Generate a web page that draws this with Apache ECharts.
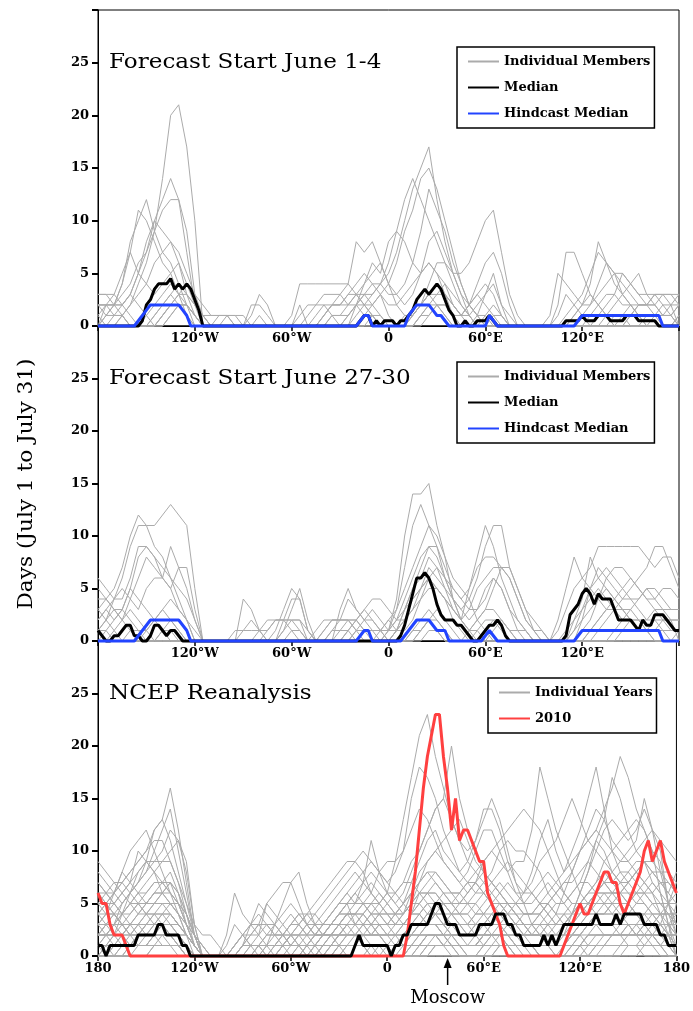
<!DOCTYPE html>
<html>
<head>
<meta charset="utf-8">
<title>Blocking days by longitude, July</title>
<script src="https://cdn.jsdelivr.net/npm/echarts@6/dist/echarts.min.js"></script>
<style>
html,body{margin:0;padding:0;background:#fff;}
#chart{width:693px;height:1011px;}
</style>
</head>
<body>
<div id="chart"></div>
<script>
// Longitude grids (degrees east): members/years on a 5° grid, medians on 2.5°
const lon5 = Array.from({length: 73}, (_, i) => -180 + 5 * i);
const lon25 = Array.from({length: 145}, (_, i) => -180 + 2.5 * i);

const xTickValues = [-180, -120, -60, 0, 60, 120, 180];
const xTickLabels = ['180', '120°W', '60°W', '0', '60°E', '120°E', '180'];
const yTickValues = [0, 5, 10, 15, 20, 25];

const panelTitles = ['Forecast Start June 1-4', 'Forecast Start June 27-30', 'NCEP Reanalysis'];
const yAxisTitle = 'Days (July 1 to July 31)';
const moscowLon = 37.6;

// ---- Forecast start June 1-4: individual members (5° grid) ----
const june1to4Members = [
  [0,0,0,1,2,4,6,9,14,20,21,17,10,0,0, 0,0,0,0,0,0,0,0,0,0,0,0,0,0,0, 0,0,1,2,3,4,5,7,10,13,15,17,12,8,5,3,1,0,0,0,0,0, 0,0,0,0,0,0,0,0,0,0,0,0,0,0,0,0,0,0,0,0,0],
  [0,0,1,2,3,5,8,10,12,14,12,9,3,0,0, 0,0,0,0,0,0,0,0,0,0,0,0,0,0,1, 1,2,3,2,2,3,4,6,9,11,14,15,13,10,7,4,2,1,1,0,0,0, 0,0,0,0,0,1,3,2,1,0,0,0,0,1,2,1,0,0,0,0,0],
  [0,1,2,4,8,10,12,9,7,6,4,2,0,0,0, 0,0,0,0,0,0,0,0,0,0,0,0,0,1,2, 2,3,4,5,4,4,6,9,12,14,12,10,8,6,4,2,1,0,0,0,0,0, 0,0,0,0,0,0,0,1,2,4,8,6,5,3,2,1,0,0,0,0,0],
  [1,2,2,3,4,6,7,9,11,12,12,7,2,0,0, 0,0,0,0,0,0,0,0,0,0,0,0,0,0,0, 0,1,2,3,3,4,3,3,4,6,9,13,11,9,6,4,2,1,0,0,0,0, 0,0,0,0,0,2,7,7,5,3,2,1,0,0,0,0,0,0,0,0,1],
  [2,2,3,5,7,11,10,8,6,5,3,1,0,0,0, 0,0,0,0,0,0,0,0,0,0,2,0,0,1,2, 3,4,8,7,8,6,4,3,2,3,5,8,9,7,5,3,2,1,0,0,0,0, 0,0,0,0,1,5,4,3,2,2,3,4,5,5,4,3,2,2,1,1,2],
  [3,3,2,2,3,5,7,10,9,8,7,5,3,1,0, 0,1,1,0,0,0,0,0,0,0,0,0,0,0,0, 0,0,2,4,6,5,8,9,8,6,5,6,5,3,1,0,0,1,3,5,2,0, 0,0,0,0,0,0,1,2,3,5,7,6,4,3,2,1,1,1,1,2,3],
  [0,2,2,4,7,5,4,3,4,5,6,3,1,0,0, 0,0,0,0,0,0,0,0,0,1,4,4,4,4,4, 4,4,3,4,5,6,4,2,1,1,2,4,6,6,5,5,6,8,10,11,7,3, 1,0,0,0,0,0,0,0,1,2,4,6,5,4,3,2,2,1,0,0,0],
  [0,0,0,1,2,3,4,6,7,8,6,4,2,1,0, 0,0,0,0,1,3,2,0,0,0,0,0,0,0,0, 0,1,2,3,4,3,2,2,3,4,5,6,5,4,2,1,2,4,6,7,5,2, 0,0,0,0,0,0,0,0,0,0,1,2,3,5,4,3,3,3,2,1,0],
  [3,3,3,2,1,0,0,1,2,3,4,3,2,1,1, 1,1,0,0,0,1,0,0,0,0,0,0,0,1,2, 2,2,3,3,2,1,0,0,0,1,2,3,4,3,2,1,1,2,3,4,2,1, 0,0,0,0,0,0,0,0,0,1,2,3,3,2,2,2,2,2,3,3,3],
  [2,2,1,1,0,0,1,2,3,4,3,3,2,1,0, 0,0,0,0,2,2,1,0,0,0,0,0,0,0,0, 0,0,0,1,2,3,1,0,0,1,2,3,3,3,2,1,2,3,4,3,1,0, 0,0,0,0,0,0,0,0,0,0,0,1,2,3,4,5,3,2,1,1,2],
  [0,1,2,2,3,2,1,0,1,2,3,2,1,0,0, 1,1,1,1,0,0,0,0,0,0,1,2,2,3,3, 3,2,2,1,1,0,0,0,0,1,2,3,4,3,2,1,0,0,1,2,1,0, 0,0,0,0,0,0,0,0,0,0,0,0,0,0,1,2,2,3,3,2,0],
  [1,0,0,0,0,0,0,1,2,3,2,1,0,0,0, 0,0,0,0,0,0,0,0,0,0,0,0,0,0,0, 0,0,0,0,1,1,0,0,0,0,1,2,2,2,1,1,2,3,2,1,0,0, 0,0,0,0,0,0,0,1,2,3,2,1,0,0,0,0,0,0,0,0,1],
  [0,0,0,0,0,0,0,0,1,2,3,4,3,2,1, 1,1,0,0,0,0,0,0,0,0,0,0,0,0,1, 1,1,2,2,1,0,0,0,0,0,1,2,3,4,3,2,1,0,0,0,0,0, 0,0,0,0,0,0,0,0,0,0,0,0,1,1,0,0,0,1,1,1,0],
  [2,2,2,1,0,0,0,0,0,1,2,2,1,0,0, 0,0,0,0,0,0,0,0,0,0,0,0,1,2,1, 0,0,0,0,0,0,0,0,1,1,2,3,2,1,0,0,0,0,0,1,1,0, 0,0,0,0,0,0,0,0,0,0,0,0,0,0,0,0,1,1,2,2,2],
  [2,1,1,1,0,0,0,0,1,2,2,2,1,0,0, 0,0,0,0,0,0,0,0,0,0,0,1,2,2,2, 2,3,3,2,1,0,0,0,0,0,0,1,2,2,1,0,0,0,0,0,0,0, 0,0,0,0,0,0,0,0,0,0,0,0,0,0,1,2,2,3,3,3,2],
  [0,0,0,0,0,0,0,0,0,1,2,2,1,0,0, 0,0,0,0,0,0,0,0,0,0,0,0,0,0,0, 0,0,0,0,0,0,0,0,0,0,1,1,2,1,0,0,0,0,0,0,0,0, 0,0,0,0,0,0,0,0,0,0,0,0,0,0,0,0,0,0,0,0,0]
];

// medians, 2.5° grid, one row per 20° of longitude
const june1to4Median = [
  0,0,0,0,0,0,0,0,
  0,0,0,0.5,2,2.5,3.5,4,
  4,4,4.5,3.5,4,3.5,4,3.5,
  2.5,1.5,0,0,0,0,0,0,
  0,0,0,0,0,0,0,0,
  0,0,0,0,0,0,0,0,
  0,0,0,0,0,0,0,0,
  0,0,0,0,0,0,0,0,
  0,0.5,1,1,0,0.5,0,0.5,
  0.5,0.5,0,0.5,0.5,1,1.5,2.5,
  3,3.5,3,3.5,4,3.5,2.5,1.5,
  1,0,0,0.5,0,0,0.5,0.5,
  0.5,1,0.5,0,0,0,0,0,
  0,0,0,0,0,0,0,0,
  0,0,0,0,0.5,0.5,0.5,0.5,
  1,0.5,0.5,0.5,1,1,1,0.5,
  0.5,0.5,0.5,1,1,1,0.5,0.5,
  0.5,0.5,0.5,0,0,0,0,0,
  0
];
const june1to4Hindcast = [
  0,0,0,0,0,0,0,0,
  0,0,0.5,1,1.5,2,2,2,
  2,2,2,2,2,1.5,1,0,
  0,0,0,0,0,0,0,0,
  0,0,0,0,0,0,0,0,
  0,0,0,0,0,0,0,0,
  0,0,0,0,0,0,0,0,
  0,0,0,0,0,0,0,0,
  0,0.5,1,1,0,0,0,0,
  0,0,0,0,0,1,1.5,2,
  2,2,2,1.5,1,1,0.5,0,
  0,0,0,0,0,0,0,0,
  0,1,0.5,0,0,0,0,0,
  0,0,0,0,0,0,0,0,
  0,0,0,0,0,0,0,0.5,
  1,1,1,1,1,1,1,1,
  1,1,1,1,1,1,1,1,
  1,1,1,1,0,0,0,0,
  0
];

// ---- Forecast start June 27-30: individual members (5° grid) ----
const june27to30Members = [
  [2,3,4,6,9,11,11,11,12,13,12,11,5,0,0, 0,0,0,0,0,0,0,0,0,0,0,0,0,0,0, 0,0,0,0,0,0,1,4,10,14,14,15,11,8,4,2,1,0,0,0,0,0, 0,0,0,0,0,0,1,2,3,4,5,4,3,2,2,1,1,1,2,2,2],
  [3,4,5,7,10,12,11,9,8,6,4,2,0,0,0, 0,0,0,4,3,1,0,0,0,0,0,0,0,0,0, 1,2,1,0,0,0,1,3,7,11,13,11,9,6,4,2,1,1,0,0,0,0, 0,0,0,0,0,0,0,1,2,3,4,5,4,3,3,2,2,3,3,3,3],
  [6,5,4,4,6,9,9,8,7,6,5,4,2,0,0, 0,0,0,0,0,0,0,0,1,3,5,2,0,0,1, 2,4,3,2,1,1,2,3,5,7,9,11,10,8,6,5,4,2,1,0,0,0, 0,0,0,0,0,1,3,5,6,7,9,9,9,9,9,9,8,7,8,8,6],
  [0,1,2,3,5,8,9,8,6,9,7,5,2,0,0, 0,0,0,0,0,0,0,1,3,5,4,1,0,0,0, 0,1,2,3,2,1,1,2,4,6,8,9,8,6,4,3,4,6,9,11,11,7, 5,3,1,0,0,0,0,0,0,0,0,0,0,0,0,0,0,0,0,0,0],
  [5,4,3,2,4,6,8,7,6,5,7,7,3,0,0, 0,0,0,0,0,0,0,0,2,4,4,1,0,0,0, 3,5,3,2,2,1,1,2,3,5,7,9,9,7,5,4,3,3,4,6,5,3, 2,1,0,0,0,2,5,8,6,5,4,3,3,4,5,6,7,9,9,7,5],
  [1,2,4,5,4,3,5,6,6,5,3,2,1,0,0, 0,0,1,1,1,1,1,2,2,2,2,1,0,1,2, 2,2,2,1,1,0,0,1,3,5,6,8,7,5,3,2,5,8,11,9,6,4, 2,1,0,0,0,0,0,2,4,8,6,5,4,3,2,1,1,0,0,0,1],
  [4,4,3,3,5,4,3,2,3,4,3,2,0,0,0, 0,0,0,1,2,1,0,0,0,0,0,0,0,0,0, 0,0,1,2,3,2,1,1,2,4,5,6,7,6,5,4,5,7,8,8,7,6, 4,2,1,0,0,0,0,0,1,2,4,6,7,7,6,5,4,4,5,5,4],
  [2,3,2,3,2,1,1,2,3,2,1,0,0,0,0, 0,0,0,0,0,1,2,2,2,2,1,0,0,0,0, 0,1,2,3,4,4,3,2,2,3,4,5,5,4,3,2,3,5,6,7,7,6, 4,2,1,1,0,0,0,0,0,1,2,3,4,5,6,5,4,3,2,2,2],
  [0,0,1,2,3,2,1,0,0,0,0,0,0,0,0, 0,0,0,0,0,0,0,0,1,2,2,0,0,1,2, 2,2,1,1,0,0,0,1,2,3,5,7,6,5,4,3,2,3,5,6,5,3, 1,0,0,0,0,0,0,0,2,5,6,7,6,5,4,3,2,2,1,0,0],
  [3,2,1,0,0,0,0,0,1,1,0,0,0,0,0, 0,0,0,0,0,0,0,0,0,0,0,0,0,0,1, 1,1,0,0,0,1,2,1,1,2,4,6,5,4,2,1,0,0,1,2,2,1, 0,0,0,0,0,0,0,1,3,5,7,6,5,4,4,4,5,5,4,3,3],
  [1,2,3,2,1,0,0,0,0,0,0,0,0,0,0, 0,0,0,0,0,0,1,2,2,1,0,0,0,0,0, 0,0,0,0,0,0,0,1,3,4,5,6,5,4,3,2,1,2,3,5,7,7, 5,3,2,1,0,0,0,0,0,1,2,3,3,2,2,1,1,2,2,1,1],
  [0,0,0,0,0,0,1,2,1,0,0,0,0,0,0, 0,0,0,0,0,0,0,0,0,0,0,0,1,2,2, 2,2,2,1,1,1,0,0,0,1,2,3,2,1,0,0,1,2,3,3,2,1, 0,0,0,0,0,0,0,0,0,0,0,0,1,2,3,4,5,4,3,2,0],
  [1,1,0,0,0,0,0,0,0,0,0,0,0,0,0, 0,0,0,0,0,0,0,0,0,1,1,0,0,0,0, 0,0,1,1,1,1,0,0,0,0,1,2,3,2,1,0,0,1,2,2,1,0, 0,0,0,0,0,0,0,0,0,0,1,2,3,3,2,2,1,1,1,1,1],
  [0,0,0,0,0,0,0,0,1,2,1,0,0,0,0, 0,0,0,0,0,0,0,0,0,0,0,0,0,0,0, 0,0,0,0,0,0,0,0,0,1,1,2,2,1,0,0,0,0,0,1,2,1, 1,1,0,0,0,0,0,0,0,0,0,0,0,1,2,2,1,0,0,0,0],
  [0,0,0,0,1,1,0,0,0,0,0,0,0,0,0, 0,0,0,0,0,0,0,0,0,0,0,0,0,0,0, 0,0,0,0,0,0,0,0,0,0,1,2,1,0,0,0,0,0,0,0,0,0, 0,0,0,0,0,0,0,0,0,0,0,0,0,0,0,0,0,0,0,0,0],
  [0,0,0,0,0,0,0,0,0,0,0,0,0,0,0, 0,0,0,0,0,0,0,0,0,0,0,0,0,0,0, 0,0,0,0,0,0,0,0,0,0,0,1,1,0,0,0,0,0,0,0,0,0, 0,0,0,0,0,0,0,0,0,0,0,0,0,0,0,0,0,0,0,0,0]
];
const june27to30Median = [
  1,0.5,0,0,0.5,0.5,1,1.5,
  1.5,0.5,0.5,0,0,0.5,1.5,1.5,
  1,0.5,1,1,0.5,0,0,0,
  0,0,0,0,0,0,0,0,
  0,0,0,0,0,0,0,0,
  0,0,0,0,0,0,0,0,
  0,0,0,0,0,0,0,0,
  0,0,0,0,0,0,0,0,
  0,0,0,0,0,0,0,0,
  0,0,0,0.5,1.5,3,4.5,6,
  6,6.5,6,5,3.5,2.5,2,2,
  2,1.5,1.5,1,0.5,0,0,0.5,
  1,1.5,1.5,2,1.5,0.5,0,0,
  0,0,0,0,0,0,0,0,
  0,0,0,0,0.5,2.5,3,3.5,
  4.5,5,4.5,3.5,4.5,4,4,4,
  3,2,2,2,2,1.5,1,2,
  1.5,1.5,2.5,2.5,2.5,2,1.5,1,
  1
];
const june27to30Hindcast = [
  0,0,0,0,0,0,0,0,
  0,0,0.5,1,1.5,2,2,2,
  2,2,2,2,2,1.5,1,0,
  0,0,0,0,0,0,0,0,
  0,0,0,0,0,0,0,0,
  0,0,0,0,0,0,0,0,
  0,0,0,0,0,0,0,0,
  0,0,0,0,0,0,0,0,
  0,0.5,1,1,0,0,0,0,
  0,0,0,0,0.5,1,1.5,2,
  2,2,2,1.5,1,1,1,0,
  0,0,0,0,0,0,0,0,
  0.5,1,0.5,0,0,0,0,0,
  0,0,0,0,0,0,0,0,
  0,0,0,0,0,0,0,0.5,
  1,1,1,1,1,1,1,1,
  1,1,1,1,1,1,1,1,
  1,1,1,1,0,0,0,0,
  0
];

// ---- NCEP reanalysis: individual years (5° grid) ----
const ncepYears = [
  [2,3,4,5,6,8,9,12,13,16,12,7,2,0,0, 0,0,0,0,0,0,0,0,0,0,1,2,3,4,5,6,7, 8,7,6,5,6,9,13,17,21,23,19,16,13,11,9,8,7,6,5,4,3, 2,3,4,5,6,7,8,10,12,14,13,11,10,9,8,7,6,4,3,2],
  [1,2,3,5,6,7,8,10,12,14,10,6,2,0,0, 0,0,1,2,3,4,3,2,1,0,0,0,1,2,3,4,5, 6,7,8,7,6,5,6,8,10,12,14,15,20,15,12,10,8,7,6,5,4, 3,2,2,3,4,6,8,10,11,12,14,16,19,17,14,12,10,6,3,1],
  [4,5,6,7,8,9,10,12,13,11,8,5,2,0,0, 0,0,0,0,0,0,0,1,2,3,4,4,3,3,4,5,6, 7,8,9,8,7,8,10,15,18,17,15,12,10,8,7,6,6,7,8,9,8, 7,6,5,4,3,3,4,6,8,11,13,17,15,12,10,9,7,6,5,4],
  [3,4,6,8,10,11,12,10,8,6,4,2,0,0,0, 0,1,3,2,1,0,0,0,1,2,2,3,4,5,6,7,8, 9,10,9,8,7,6,7,9,10,12,14,15,13,11,10,11,13,15,13,10,7, 5,3,2,1,1,2,4,6,8,10,12,13,12,11,12,14,12,10,5,3],
  [0,1,2,4,6,7,8,9,10,12,11,9,3,0,0, 0,0,0,0,0,0,1,3,5,7,8,5,3,2,2,3,4, 4,5,6,8,9,9,10,12,14,13,11,9,8,7,8,10,12,12,10,8,6, 6,8,11,13,10,8,10,12,15,18,14,10,8,7,6,5,4,4,2,0],
  [5,6,6,7,8,9,10,11,11,9,7,4,1,0,0, 0,0,0,0,0,0,0,0,0,0,0,1,2,3,4,5,6, 5,6,7,6,5,4,5,7,9,11,12,10,9,8,9,11,14,14,12,9,7, 6,7,9,10,11,13,15,13,11,10,9,8,7,7,8,9,8,7,6,5],
  [2,2,3,4,5,6,7,8,9,10,11,8,3,0,0, 0,0,0,1,2,3,5,6,7,7,5,3,2,2,3,4,5, 5,7,11,8,6,5,4,5,7,9,10,11,12,13,11,9,8,7,6,5,5, 4,4,5,6,7,8,9,10,11,12,11,10,9,9,10,11,12,8,5,2],
  [6,5,5,6,7,10,9,8,7,6,5,3,1,0,0, 0,0,0,0,0,0,0,0,0,0,0,0,1,2,3,4,5, 3,4,5,6,5,4,5,6,8,9,10,9,8,7,6,7,9,10,9,8,9, 9,12,18,15,12,10,8,6,5,4,4,5,6,7,8,9,9,8,7,6],
  [3,4,5,6,7,8,9,9,9,9,7,5,3,2,2, 1,0,0,0,0,0,0,0,1,2,3,4,5,6,7,8,9, 9,8,6,5,4,3,4,6,7,8,8,7,6,6,7,8,9,10,11,12,13, 14,13,12,10,8,6,5,5,6,7,9,10,11,12,13,12,10,9,5,3],
  [8,7,6,5,6,7,9,8,6,5,4,3,2,1,0, 0,2,6,4,3,2,1,0,0,0,0,0,0,1,2,3,4, 3,4,5,4,3,2,3,4,6,7,8,7,6,5,5,6,7,8,10,11,10, 10,9,8,6,5,5,6,7,9,11,10,8,7,6,6,7,8,7,6,8],
  [9,8,7,6,5,4,5,6,7,7,6,4,2,0,0, 0,0,0,0,0,1,2,3,4,5,4,3,2,2,2,3,3, 3,3,4,4,3,3,4,5,6,6,7,6,5,4,4,5,6,5,6,7,6, 5,5,6,7,6,5,4,4,5,6,7,8,9,10,11,15,12,11,10,9],
  [4,5,6,8,7,6,5,6,6,7,5,4,2,1,0, 0,0,0,0,1,2,5,4,3,2,1,0,0,0,1,2,3, 2,3,3,3,2,2,3,4,5,6,6,5,4,3,3,4,5,6,7,6,5, 4,4,4,5,4,3,3,4,5,6,7,6,5,5,6,6,5,4,4,4],
  [7,6,5,4,4,5,6,7,7,6,5,3,1,0,0, 0,0,0,0,0,0,0,0,0,0,0,0,0,1,1,2,3, 3,2,2,3,3,4,4,5,5,4,5,5,4,4,3,3,4,5,5,4,3, 3,3,2,2,3,4,5,5,4,4,5,6,6,5,4,3,3,4,5,7],
  [5,5,4,3,3,4,5,5,6,7,6,4,2,0,0, 0,0,1,2,2,3,3,2,2,3,3,2,2,2,2,2,2, 2,2,2,2,2,2,2,3,4,5,4,4,3,3,2,2,3,4,5,5,4, 3,2,2,1,1,1,2,3,4,5,5,4,4,3,3,4,4,3,2,5],
  [1,2,2,3,4,5,4,4,5,5,4,3,1,0,0, 0,0,0,0,0,0,0,0,0,0,0,0,0,0,0,1,2, 2,3,3,2,1,1,2,3,4,3,4,3,3,2,2,3,3,3,4,3,2, 2,2,2,2,1,1,2,3,3,4,4,4,3,3,2,2,3,3,2,1],
  [0,0,1,2,3,4,4,5,5,4,3,2,1,0,0, 0,0,0,1,3,5,4,3,2,1,1,0,0,1,2,3,4, 4,3,2,2,2,1,1,2,3,3,3,3,2,2,2,2,2,3,3,2,2, 2,2,2,1,1,1,1,2,3,3,3,3,3,4,4,3,2,2,1,0],
  [2,2,3,3,2,2,3,4,4,3,3,2,1,0,0, 0,0,0,0,0,0,0,0,0,0,0,0,0,0,0,0,1, 1,2,2,2,1,1,1,2,2,3,3,2,2,2,1,1,2,2,3,3,2, 1,1,1,1,1,1,2,2,2,3,3,3,2,2,2,3,3,2,2,2],
  [6,5,4,3,2,1,2,3,3,2,2,1,0,0,0, 0,0,0,0,0,1,2,2,3,4,3,2,1,0,0,0,0, 0,0,0,0,1,1,2,2,3,3,4,3,2,1,1,1,2,3,3,2,1, 1,1,0,0,0,1,1,2,3,3,2,2,2,3,3,3,2,3,5,6],
  [3,3,2,2,1,2,2,3,3,4,3,2,1,0,0, 0,0,0,0,0,0,0,0,0,0,0,1,2,3,3,4,4, 4,4,3,2,1,0,0,1,2,2,2,2,2,1,1,2,2,2,2,1,1, 1,1,1,1,0,0,1,1,2,2,2,2,3,3,2,2,2,2,3,3],
  [1,1,1,2,2,2,2,2,3,3,2,2,1,0,0, 0,0,0,0,0,0,0,0,0,0,0,0,0,0,0,0,0, 0,0,1,1,1,1,1,2,2,3,3,2,1,1,1,1,1,2,2,2,1, 1,1,1,1,0,0,0,1,2,2,2,2,2,2,3,2,2,1,1,1],
  [4,3,3,2,1,1,1,2,2,2,1,1,0,0,0, 0,0,0,0,0,0,0,0,1,2,2,1,0,0,0,1,2, 2,2,1,1,1,0,0,1,1,2,2,2,1,1,1,1,2,2,2,1,1, 1,1,0,0,0,0,1,1,1,2,2,2,2,2,2,3,3,3,3,4],
  [0,0,0,1,1,2,2,2,2,2,2,1,0,0,0, 0,0,0,0,0,0,0,0,0,0,0,0,0,0,0,0,0, 0,0,0,0,0,1,1,1,2,2,2,1,1,1,0,0,1,1,1,1,1, 1,0,0,0,0,0,0,1,1,1,2,2,2,1,1,1,1,1,0,0],
  [2,2,1,1,1,1,1,1,2,2,1,1,0,0,0, 0,0,0,1,1,1,0,0,0,0,0,0,0,0,0,0,0, 0,0,0,0,0,0,1,1,1,2,2,2,1,1,1,1,1,1,2,2,1, 1,1,0,0,0,0,0,0,1,1,1,2,2,2,2,1,1,1,2,2],
  [0,1,1,1,1,1,1,2,2,1,1,0,0,0,0, 0,0,0,0,0,0,0,0,0,0,0,0,0,0,1,1,1, 1,1,1,0,0,0,0,1,1,1,2,1,1,0,0,0,1,1,1,1,0, 0,0,0,0,0,0,0,1,1,1,1,1,1,1,1,2,2,1,1,0],
  [1,0,0,0,0,1,1,1,1,1,1,0,0,0,0, 0,0,0,0,0,0,0,0,0,0,0,0,0,0,0,0,0, 0,0,0,0,0,0,0,0,1,1,1,1,1,1,0,0,0,1,1,1,0, 0,0,0,0,0,0,0,0,0,1,1,1,1,1,1,1,1,1,1,1],
  [0,0,0,0,1,1,1,1,1,1,0,0,0,0,0, 0,0,0,0,0,0,0,0,0,0,0,0,0,0,0,0,0, 0,0,0,0,0,0,0,0,0,1,1,1,0,0,0,0,0,0,1,1,1, 0,0,0,0,0,0,0,0,0,0,1,1,1,1,1,0,0,0,0,0],
  [0,0,0,0,0,0,0,1,1,1,1,0,0,0,0, 0,0,0,0,0,0,0,0,0,0,0,0,0,0,0,0,0, 0,0,0,0,0,0,0,0,0,0,1,1,1,0,0,0,0,0,0,0,0, 0,0,0,0,0,0,0,0,0,0,0,0,1,1,1,1,1,0,0,0],
  [1,1,0,0,0,0,0,0,0,0,0,0,0,0,0, 0,0,0,0,0,0,0,0,0,0,0,0,0,0,0,0,1, 1,1,0,0,0,0,0,0,0,0,0,0,0,0,0,0,0,0,0,0,0, 0,0,0,0,0,0,0,0,0,0,0,0,0,0,0,1,1,1,1,1],
  [0,0,0,0,0,0,0,0,0,0,0,0,0,0,0, 0,0,0,0,0,0,0,0,0,0,0,0,0,0,0,0,0, 0,0,0,0,0,0,0,0,0,0,0,0,0,0,0,0,0,0,1,1,0, 0,0,0,0,0,0,0,0,0,0,0,0,0,0,0,0,0,0,0,0],
  [2,3,3,4,5,6,6,7,7,8,6,3,1,0,0, 0,0,0,1,2,2,3,3,2,2,3,4,4,3,3,3,4, 5,5,4,3,3,4,5,6,7,8,7,6,5,5,6,7,8,7,6,5,4, 3,3,4,5,6,7,7,8,9,8,7,6,6,7,8,7,6,5,4,2],
  [0,0,1,1,2,3,4,5,6,5,4,2,1,0,0, 0,0,0,0,0,0,0,1,2,3,4,3,2,3,4,5,5, 6,5,4,4,5,6,7,7,6,5,5,4,4,5,6,7,6,5,4,3,3, 2,2,3,4,5,5,6,7,7,6,5,5,4,4,5,6,7,6,3,0],
  [3,2,2,1,1,2,3,3,4,4,3,2,1,0,0, 0,0,1,2,1,1,0,0,0,0,0,1,1,2,2,1,1, 2,2,3,4,4,3,3,4,5,6,6,5,4,3,3,4,4,5,5,4,4, 3,3,3,2,2,3,4,5,6,7,8,7,6,5,4,4,5,5,4,3],
  [5,4,4,3,3,3,4,4,3,3,2,2,1,0,0, 0,0,0,0,0,0,0,0,0,1,2,3,3,2,2,2,3, 3,3,4,5,6,6,5,4,4,3,3,3,4,4,5,5,4,3,3,4,5, 6,6,5,4,3,3,3,4,5,5,6,6,7,8,7,6,5,5,5,5],
  [1,1,2,2,3,3,3,4,4,5,5,4,2,0,0, 0,0,0,0,1,1,1,2,2,1,1,1,2,2,3,3,2, 2,2,2,3,3,3,3,4,4,5,5,6,6,6,5,4,4,4,3,3,2, 2,2,2,3,3,4,4,5,5,6,6,5,5,4,4,3,3,2,2,1],
  [0,0,0,0,1,2,3,3,4,4,3,2,1,0,0, 0,0,0,0,0,0,0,0,1,1,2,2,3,3,3,3,3, 3,3,3,4,4,4,3,3,3,4,4,4,3,3,2,2,3,3,4,4,3, 3,2,2,2,2,2,3,3,4,4,4,5,5,5,4,4,3,3,2,0],
  [7,6,5,4,3,3,2,2,3,3,2,1,0,0,0, 0,0,0,0,0,0,1,1,2,2,1,1,1,1,2,2,2, 2,2,2,2,2,3,3,3,3,3,3,3,2,2,2,3,3,4,4,5,5, 5,6,7,8,7,6,5,5,6,6,7,7,8,8,9,9,8,8,8,7],
  [2,2,2,2,2,3,3,3,3,2,2,1,0,0,0, 0,0,0,1,1,1,1,1,1,2,2,2,2,2,2,2,2, 2,1,1,1,1,2,2,2,3,3,3,2,2,2,2,2,2,3,3,3,3, 3,3,3,3,2,2,2,3,3,3,3,3,3,3,2,2,2,2,2,2],
  [0,0,0,1,1,1,1,2,2,2,2,1,0,0,0, 0,0,0,0,0,1,1,1,1,1,1,1,1,1,1,1,1, 1,1,1,1,1,1,2,2,2,2,2,1,1,1,1,1,2,2,2,2,2, 2,2,2,1,1,1,1,1,2,2,2,2,2,2,2,2,2,1,1,0],
  [3,3,3,3,2,2,2,2,1,1,1,1,0,0,0, 0,0,0,0,0,0,0,0,0,0,0,0,1,1,1,2,2, 3,3,2,2,2,2,1,1,1,2,2,2,3,3,3,2,2,2,1,1,1, 1,1,1,2,2,2,2,2,1,1,1,2,2,3,3,3,4,4,4,3],
  [1,1,1,1,1,1,1,1,1,1,1,0,0,0,0, 0,0,0,0,0,0,0,0,0,0,1,1,1,1,1,1,0, 0,0,0,1,1,1,1,1,1,1,1,1,1,1,1,1,1,1,1,1,1, 1,1,1,1,1,1,1,1,1,1,1,1,1,1,1,1,1,1,1,1],
  [4,4,4,3,3,2,2,2,2,2,2,1,0,0,0, 0,0,0,0,0,0,0,0,0,0,0,0,0,0,0,1,1, 1,1,1,1,0,0,0,0,1,1,1,1,1,1,1,1,1,2,2,2,2, 2,1,1,1,1,1,2,2,3,3,3,3,3,3,3,3,3,4,4,4],
  [0,0,0,0,0,0,0,1,1,1,1,1,0,0,0, 0,0,0,0,0,0,0,0,0,0,0,0,0,0,0,0,0, 0,0,0,0,0,0,0,0,0,1,1,1,1,1,1,1,2,2,2,1,1, 1,1,0,0,0,0,0,0,0,1,1,1,1,2,2,2,1,1,0,0],
  [2,2,2,2,3,3,3,3,3,2,1,0,0,0,0, 0,0,0,0,0,0,0,0,0,0,0,0,0,1,1,1,1, 1,1,0,0,0,0,0,0,0,0,1,1,2,2,2,2,1,1,1,1,1, 1,1,1,1,1,1,1,1,0,0,0,0,0,1,1,1,2,2,2,2],
  [6,6,7,7,6,5,4,3,3,3,3,2,1,0,0, 0,0,0,0,0,0,0,0,0,0,0,0,0,0,1,2,3, 4,4,3,3,2,2,2,3,3,4,4,5,5,4,4,3,3,2,2,3,3, 4,4,5,5,4,4,3,3,3,4,4,4,5,5,6,6,6,7,7,6],
  [2,3,4,4,5,5,5,6,6,6,5,3,2,1,0, 0,0,1,2,3,3,2,2,2,1,1,1,1,2,3,4,4, 4,5,5,5,4,4,4,5,6,6,5,5,5,6,7,7,6,5,5,5,4, 4,4,4,3,3,3,4,5,5,6,6,6,6,6,5,5,4,3,3,2]
];
const ncepMedian = [
  1,1,0,1,1,1,1,1,
  1,1,2,2,2,2,2,3,
  3,2,2,2,2,1,1,0,
  0,0,0,0,0,0,0,0,
  0,0,0,0,0,0,0,0,
  0,0,0,0,0,0,0,0,
  0,0,0,0,0,0,0,0,
  0,0,0,0,0,0,0,0,
  1,2,1,1,1,1,1,1,
  1,0,1,1,2,2,3,3,
  3,3,3,4,5,5,4,3,
  3,3,2,2,2,2,2,3,
  3,3,3,4,4,4,3,3,
  2,2,1,1,1,1,1,2,
  1,2,1,2,3,3,3,3,
  3,3,3,3,4,3,3,3,
  3,4,3,4,4,4,4,4,
  3,3,3,3,2,2,1,1,
  1
];
const ncep2010 = [
  6,5,5,3,2,2,2,1,
  0,0,0,0,0,0,0,0,
  0,0,0,0,0,0,0,0,
  0,0,0,0,0,0,0,0,
  0,0,0,0,0,0,0,0,
  0,0,0,0,0,0,0,0,
  0,0,0,0,0,0,0,0,
  0,0,0,0,0,0,0,0,
  0,0,0,0,0,0,0,0,
  0,0,0,0,0,2,5,8,
  12,16,19,21,23,23,19,16,
  12,15,11,12,12,11,10,9,
  9,6,5,4,3,1,0,0,
  0,0,0,0,0,0,0,0,
  0,0,0,0,1,2,3,4,
  5,4,4,5,6,7,8,8,
  7,7,5,4,5,6,7,8,
  10,11,9,10,11,9,8,7,
  6
];

// ---- styling ----
const FONT = 'DejaVu Serif';
const GRAY = '#ababab';
const BLUE = '#2244ff';
const RED = '#ff4040';
const gridTops = [10, 326, 641];
const gridHeights = [316, 315, 315];

function pairs(xs, ys) { return ys.map((v, i) => [xs[i], v]); }

function lineSeries(name, k, xs, ys, color, width) {
  return {
    type: 'line', name, xAxisIndex: k, yAxisIndex: k,
    data: pairs(xs, ys), symbol: 'none', showSymbol: false,
    clip: false, silent: true, animation: false,
    lineStyle: {color, width}, itemStyle: {color}
  };
}

function xAxisFor(k, showEnds) {
  return {
    type: 'value', gridIndex: k, min: -180, max: 180, interval: 60,
    axisLine: {show: true, onZero: false, lineStyle: {color: '#000', width: 1}},
    axisTick: {show: true, length: 5, lineStyle: {color: '#000', width: 1.5}},
    splitLine: {show: false},
    axisLabel: {
      margin: 6, fontFamily: FONT, fontWeight: 'bold', fontSize: 13, color: '#000',
      showMinLabel: true, showMaxLabel: true,
      formatter: v => {
        const i = xTickValues.indexOf(v);
        if (i < 0) return '';
        if (!showEnds && Math.abs(v) === 180) return '';
        return xTickLabels[i];
      }
    }
  };
}

function yAxisFor(k) {
  return {
    type: 'value', gridIndex: k, min: 0, max: 30, interval: 5,
    axisLine: {show: true, onZero: false, lineStyle: {color: '#000', width: 1}},
    axisTick: {show: true, length: 6, lineStyle: {color: '#000', width: 2}},
    splitLine: {show: false},
    axisLabel: {
      margin: 9, fontFamily: FONT, fontWeight: 'bold', fontSize: 13, color: '#000',
      formatter: v => yTickValues.includes(v) ? String(v) : ''
    }
  };
}

function legendBox(left, top, names) {
  return {
    left, top, orient: 'vertical', data: names, selectedMode: false,
    padding: [8, 4, 8, 10], itemGap: 13, itemWidth: 31, itemHeight: 14,
    borderColor: '#000', borderWidth: 1.5, backgroundColor: '#fff',
    itemStyle: {opacity: 0},
    textStyle: {fontFamily: FONT, fontWeight: 'bold', fontSize: 13, color: '#000'}
  };
}

const series = [];
june1to4Members.forEach(m => series.push(lineSeries('Individual Members', 0, lon5, m, GRAY, 1)));
series.push(lineSeries('Median', 0, lon25, june1to4Median, '#000', 3));
series.push(lineSeries('Hindcast Median', 0, lon25, june1to4Hindcast, BLUE, 3));

june27to30Members.forEach(m => series.push(lineSeries('Individual Members', 1, lon5, m, GRAY, 1)));
series.push(lineSeries('Median', 1, lon25, june27to30Median, '#000', 3));
series.push(lineSeries('Hindcast Median', 1, lon25, june27to30Hindcast, BLUE, 3));

ncepYears.forEach(y => series.push(lineSeries('Individual Years', 2, lon5, y, GRAY, 1)));
series.push(lineSeries('2010', 2, lon25, ncep2010, RED, 3));
series.push(lineSeries('Reanalysis Median', 2, lon25, ncepMedian, '#000', 3));

// panel titles and the shared y-axis title, drawn slightly widened
const textGraphics = panelTitles.map((t, k) => ({
  type: 'text', x: 109, y: gridTops[k] + 53, scaleX: 1.1, z: 10,
  style: {text: t, fontFamily: FONT, fontSize: 21, fill: '#000', align: 'left', verticalAlign: 'middle'}
}));
textGraphics.push({
  type: 'text', x: 27, y: 484, rotation: Math.PI / 2, scaleX: 1.08, z: 10,
  style: {text: yAxisTitle, fontFamily: FONT, fontSize: 20, fill: '#000', align: 'center', verticalAlign: 'middle'}
});

const chart = echarts.init(document.getElementById('chart'), null, {renderer: 'canvas'});
chart.setOption({
  animation: false,
  backgroundColor: '#fff',
  grid: gridTops.map((top, k) => ({
    left: 98, right: 14, top, height: gridHeights[k],
    show: true, borderColor: '#000', borderWidth: 1, backgroundColor: 'transparent'
  })),
  xAxis: [xAxisFor(0, false), xAxisFor(1, false), xAxisFor(2, true)],
  yAxis: [yAxisFor(0), yAxisFor(1), yAxisFor(2)],
  legend: [
    legendBox(457, 47, ['Individual Members', 'Median', 'Hindcast Median']),
    legendBox(457, 362, ['Individual Members', 'Median', 'Hindcast Median']),
    legendBox(488, 678, ['Individual Years', '2010'])
  ],
  series
});

// Moscow marker below the reanalysis panel
const mx = chart.convertToPixel({xAxisIndex: 2}, moscowLon);
const y0 = chart.convertToPixel({yAxisIndex: 2}, 0);
chart.setOption({
  graphic: textGraphics.concat([
    {type: 'line', shape: {x1: mx, y1: y0 + 8, x2: mx, y2: y0 + 29}, style: {stroke: '#000', lineWidth: 1.5}},
    {type: 'polygon', shape: {points: [[mx, y0 + 2], [mx - 4, y0 + 12], [mx + 4, y0 + 12]]}, style: {fill: '#000'}},
    {type: 'text', x: mx, y: y0 + 42, style: {text: 'Moscow', fontFamily: FONT, fontSize: 18, fill: '#000', align: 'center', verticalAlign: 'middle'}}
  ])
});
</script>
</body>
</html>
